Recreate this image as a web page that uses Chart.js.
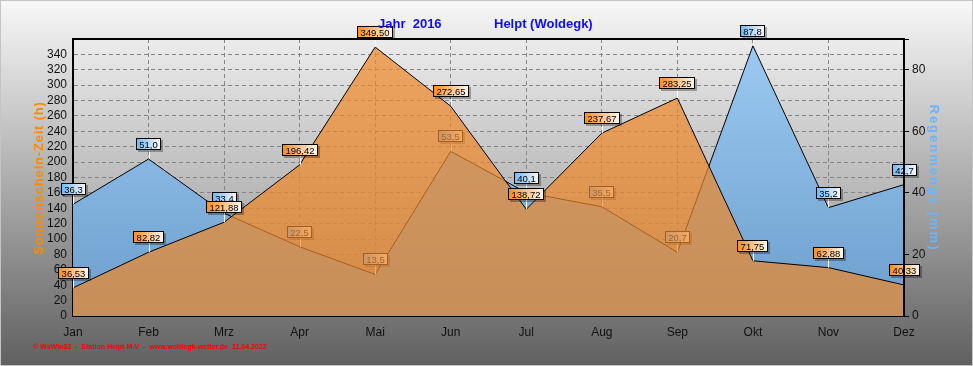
<!DOCTYPE html>
<html>
<head>
<meta charset="utf-8">
<script src="https://cdn.jsdelivr.net/npm/chart.js@4"></script>
<style>
  html, body { margin: 0; padding: 0; background: #fff; }
  canvas { display: block; }
</style>
</head>
<body>
<canvas id="grafik" width="973" height="366"></canvas>
<script>
// Werte aus dem Jahresdiagramm 2016
const monate = ['Jan', 'Feb', 'Mrz', 'Apr', 'Mai', 'Jun', 'Jul', 'Aug', 'Sep', 'Okt', 'Nov', 'Dez'];
const sonnenschein = [36.53, 82.82, 121.88, 196.42, 349.50, 272.65, 138.72, 237.67, 283.25, 71.75, 62.88, 40.33];
const regenmenge = [36.3, 51.0, 33.4, 22.5, 13.5, 53.5, 40.1, 35.5, 20.7, 87.8, 35.2, 42.7];
const sonneAchse = [0, 360, 20];   // min, max, schritt
const regenAchse = [0, 90, 20];

const deutsch = (v, n) => v.toFixed(n).replace('.', ',');

function marke(ctx, x, y, text, farbe) {
    ctx.save();
    ctx.font = '9.5px Arial';
    const w = Math.round(ctx.measureText(text).width) + 7;
    const h = 12;
    const bx = Math.round(x - w / 2);
    const by = Math.round(y - 9 - h);
    ctx.strokeStyle = '#ffffff';
    ctx.lineWidth = 1;
    ctx.beginPath();
    ctx.moveTo(Math.round(x) + 0.5, by + h);
    ctx.lineTo(Math.round(x) + 0.5, y);
    ctx.stroke();
    ctx.fillStyle = 'rgba(0,0,0,0.3)';
    ctx.fillRect(bx + 2, by + 2, w, h);
    const g = ctx.createLinearGradient(bx, 0, bx + w, 0);
    g.addColorStop(0, farbe);
    g.addColorStop(1, '#fffaf4');
    ctx.fillStyle = g;
    ctx.fillRect(bx, by, w, h);
    ctx.strokeStyle = '#000';
    ctx.strokeRect(bx + 0.5, by + 0.5, w - 1, h - 1);
    ctx.fillStyle = '#000';
    ctx.textAlign = 'center';
    ctx.textBaseline = 'middle';
    ctx.fillText(text, bx + w / 2, by + h / 2 + 1);
    ctx.restore();
}

const hintergrund = {
    id: 'hintergrund',
    beforeDraw(chart) {
        const { ctx, width, height, chartArea: a } = chart;
        ctx.save();
        let g = ctx.createLinearGradient(0, 0, 0, height);
        g.addColorStop(0, '#f8f8f8');
        g.addColorStop(1, '#606060');
        ctx.fillStyle = g;
        ctx.fillRect(0, 0, width, height);
        g = ctx.createLinearGradient(0, a.top, 0, a.bottom);
        g.addColorStop(0, '#ececec');
        g.addColorStop(1, '#8e8e8e');
        ctx.fillStyle = g;
        ctx.fillRect(a.left, a.top, a.right - a.left, a.bottom - a.top);
        ctx.strokeStyle = '#c4c4c4';
        ctx.strokeRect(0.5, 0.5, width - 1, height - 1);
        ctx.restore();
    },
    afterDatasetDraw(chart, args) {
        if (args.index !== 1) return;
        const meta = chart.getDatasetMeta(1);
        meta.data.forEach((p, i) => marke(chart.ctx, p.x, p.y, deutsch(regenmenge[i], 1), '#6cb8ff'));
    },
    afterDatasetsDraw(chart) {
        const meta = chart.getDatasetMeta(0);
        meta.data.forEach((p, i) => marke(chart.ctx, p.x, p.y, deutsch(sonnenschein[i], 2), '#ff8a1c'));
    },
    afterDraw(chart) {
        const { ctx, chartArea: a } = chart;
        ctx.save();
        // Rahmen oben und rechts
        ctx.strokeStyle = '#000';
        ctx.lineWidth = 2;
        ctx.beginPath();
        ctx.moveTo(a.left, a.top);
        ctx.lineTo(a.right, a.top);
        ctx.lineTo(a.right, a.bottom);
        ctx.stroke();

        // Titel
        ctx.font = 'bold 13px Arial';
        ctx.fillStyle = '#0c0cff';
        ctx.textBaseline = 'middle';
        ctx.textAlign = 'left';
        ctx.fillText('Jahr  2016', 378, 24);
        ctx.fillText('Helpt (Woldegk)', 494, 24);

        // Achsentitel links
        ctx.save();
        ctx.translate(39, 178);
        ctx.rotate(-Math.PI / 2);
        ctx.font = 'bold 13px Arial';
        ctx.letterSpacing = '0.8px';
        ctx.fillStyle = '#ff8a00';
        ctx.textAlign = 'center';
        ctx.fillText('Sonnenschein-Zeit (h)', 0, 0);
        ctx.restore();

        // Achsentitel rechts
        ctx.save();
        ctx.translate(934, 178);
        ctx.rotate(Math.PI / 2);
        ctx.font = 'bold 13px Arial';
        ctx.letterSpacing = '2px';
        ctx.fillStyle = '#6ab4ff';
        ctx.textAlign = 'center';
        ctx.fillText('Regenmenge (mm)', 0, 0);
        ctx.restore();

        // Fusszeile
        ctx.font = 'bold 7px Arial';
        ctx.fillStyle = '#ff0000';
        ctx.textAlign = 'left';
        ctx.fillText('\u00a9 WsWin32  -  Station Helpt M-V  -  www.woldegk-wetter.de  11.04.2022', 33, 347);
        ctx.restore();
    }
};

const flaecheBlau = (c) => {
    const a = c.chart.chartArea;
    if (!a) return 'rgba(130,180,225,1)';
    const g = c.chart.ctx.createLinearGradient(0, a.top, 0, a.bottom);
    g.addColorStop(0, 'rgb(156,202,242)');
    g.addColorStop(1, 'rgb(108,158,204)');
    return g;
};

const ctx = document.getElementById('grafik');
new Chart(ctx, {
    type: 'line',
    data: {
        labels: monate,
        datasets: [{
            label: 'Sonnenschein-Zeit',
            data: sonnenschein,
            yAxisID: 'y',
            order: 0,
            fill: 'origin',
            backgroundColor: 'rgba(240,135,40,0.7)',
            borderColor: '#000',
            borderWidth: 1,
            pointRadius: 0,
            tension: 0
        }, {
            label: 'Regenmenge',
            data: regenmenge,
            yAxisID: 'y1',
            order: 1,
            fill: 'origin',
            backgroundColor: flaecheBlau,
            borderColor: '#000',
            borderWidth: 1,
            pointRadius: 0,
            tension: 0
        }]
    },
    options: {
        responsive: false,
        animation: false,
        layout: { padding: { top: 39, left: 0, right: 0, bottom: 0 } },
        plugins: {
            legend: { display: false },
            tooltip: { enabled: false },
            title: { display: false }
        },
        scales: {
            x: {
                offset: false,
                grid: { color: '#858585', drawTicks: false },
                border: { color: '#000', width: 2, dash: [4, 3] },
                ticks: { color: '#111', font: { family: 'Arial', size: 12 }, padding: 9, maxRotation: 0, autoSkip: false },
                afterFit(s) { s.height = 50; }
            },
            y: {
                position: 'left',
                min: sonneAchse[0],
                max: sonneAchse[1],
                grid: { color: '#858585', drawTicks: false },
                border: { color: '#000', width: 2, dash: [4, 3] },
                ticks: {
                    stepSize: sonneAchse[2],
                    autoSkip: false,
                    color: '#111',
                    font: { family: 'Arial', size: 12 },
                    padding: 6,
                    callback: (v) => v === sonneAchse[1] ? '' : v
                },
                afterFit(s) { s.width = 73; }
            },
            y1: {
                position: 'right',
                min: regenAchse[0],
                max: regenAchse[1],
                grid: { drawOnChartArea: false, color: '#000', tickLength: 5 },
                border: { color: '#000', width: 2 },
                ticks: {
                    stepSize: regenAchse[2],
                    autoSkip: false,
                    color: '#111',
                    font: { family: 'Arial', size: 12 },
                    padding: 3,
                    callback: (v) => v % regenAchse[2] === 0 ? v : ''
                },
                afterFit(s) { s.width = 69; }
            }
        }
    },
    plugins: [hintergrund]
});
</script>
</body>
</html>
